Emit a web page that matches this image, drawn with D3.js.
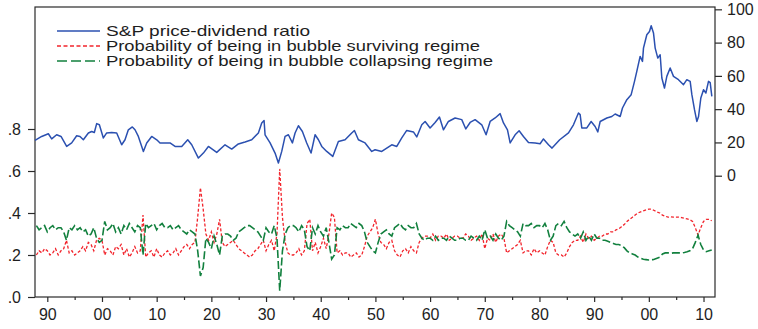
<!DOCTYPE html>
<html>
<head>
<meta charset="utf-8">
<script src="https://cdn.jsdelivr.net/npm/d3@7/dist/d3.min.js"></script>
<style>
  html, body { margin: 0; padding: 0; background: #ffffff; }
  svg { display: block; }
  text { font-family: Arial, "Liberation Sans", sans-serif; fill: #1e1e1e; }
</style>
</head>
<body>
<svg id="chart" width="758" height="329"></svg>
<script>
// S&P price-dividend ratio (right axis): sample dates and values
const blueYears = [
  1887.75, 1888.97, 1890.19, 1890.80, 1891.71, 1892.51, 1893.54, 1894.46, 1895.37, 1895.98,
  1896.59, 1897.51, 1898.12, 1898.60, 1899.03, 1899.52, 1900.25, 1900.86, 1901.77, 1902.69,
  1903.60, 1904.21, 1904.82, 1905.55, 1906.04, 1906.65, 1907.57, 1908.18, 1909.09, 1910.01,
  1910.61, 1911.53, 1912.44, 1913.36, 1914.58, 1915.68, 1916.41, 1917.63, 1918.54, 1919.46,
  1920.98, 1922.50, 1923.72, 1924.94, 1926.16, 1927.38, 1928.60, 1929.21, 1929.64, 1929.82,
  1930.74, 1931.65, 1932.26, 1932.87, 1933.48, 1934.09, 1934.82, 1935.31, 1935.92, 1936.65,
  1937.44, 1938.23, 1938.97, 1939.58, 1940.19, 1941.10, 1942.20, 1943.23, 1944.45, 1945.67,
  1946.16, 1946.89, 1948.11, 1949.33, 1949.94, 1951.16, 1952.99, 1953.91, 1954.82, 1955.73,
  1956.95, 1957.56, 1958.48, 1959.09, 1960.00, 1960.92, 1961.71, 1962.44, 1963.35, 1964.57,
  1965.79, 1966.53, 1967.32, 1968.23, 1969.45, 1970.24, 1970.98, 1971.89, 1972.81, 1973.42,
  1974.15, 1974.64, 1975.55, 1976.28, 1977.07, 1977.99, 1979.21, 1980.12, 1980.73, 1981.65,
  1982.30, 1983.70, 1985.31, 1986.22, 1987.13, 1987.44, 1987.74, 1988.66, 1989.45, 1990.18,
  1990.67, 1991.10, 1992.32, 1993.23, 1993.84, 1994.76, 1995.18, 1995.98, 1996.77, 1997.38,
  1997.80, 1998.41, 1998.84, 1999.02, 1999.63, 2000.12, 2000.43, 2000.85, 2001.16, 2001.64,
  2002.07, 2002.38, 2002.86, 2003.29, 2003.90, 2004.51, 2005.42, 2006.34, 2006.95, 2007.56,
  2007.87, 2008.35, 2008.78, 2009.09, 2009.51, 2010.00, 2010.43, 2010.91, 2011.22, 2011.52
];
const blueValues = [
  21.2, 23.6, 25.2, 22.1, 24.6, 23.6, 17.6, 19.7, 24.0, 23.6,
  21.6, 25.7, 26.6, 26.0, 31.3, 30.6, 22.7, 25.7, 26.0, 25.7,
  18.6, 21.6, 27.6, 29.3, 27.6, 23.6, 14.6, 19.7, 23.6, 21.6,
  19.7, 19.7, 19.7, 17.6, 17.6, 21.6, 18.6, 10.6, 13.6, 17.6,
  14.0, 18.6, 16.0, 19.1, 20.3, 21.6, 25.7, 31.7, 33.2, 24.6,
  19.7, 13.6, 7.6, 14.6, 23.6, 24.6, 19.7, 25.7, 30.0, 26.6,
  19.7, 13.6, 24.6, 21.6, 17.6, 14.6, 11.6, 20.6, 21.6, 25.7,
  27.2, 21.6, 19.7, 14.6, 15.6, 14.6, 18.6, 17.6, 22.7, 27.2,
  26.3, 23.3, 30.6, 32.6, 28.7, 32.0, 35.3, 27.6, 32.6, 34.7,
  33.7, 28.1, 32.0, 33.7, 30.6, 24.6, 32.6, 34.7, 37.3, 31.7,
  27.6, 19.7, 24.6, 27.0, 23.6, 20.0, 19.7, 19.2, 22.1, 18.6,
  16.6, 21.6, 25.7, 30.6, 37.7, 36.7, 28.7, 28.7, 32.6, 29.6,
  26.3, 32.6, 34.7, 35.6, 37.1, 35.6, 40.7, 45.7, 48.7, 56.7,
  62.7, 71.7, 68.7, 76.7, 84.7, 86.7, 90.1, 85.8, 76.7, 70.7,
  72.7, 58.7, 52.7, 59.7, 64.7, 59.7, 57.7, 54.7, 57.7, 56.7,
  48.7, 39.7, 32.6, 35.6, 46.7, 51.7, 49.7, 56.7, 55.9, 47.7
];

// Regime probabilities (left axis), half-year observations from 1888
const probStart = 1888;
const probStep = 0.5;
const surviving = [
  .20, .22, .21, .23, .22, .20, .21, .23, .20, .22,
  .23, .27, .21, .22, .20, .21, .22, .24, .22, .26,
  .25, .22, .27, .28, .27, .20, .23, .22, .20, .24,
  .23, .25, .20, .23, .19, .21, .24, .21, .22, .39,
  .19, .21, .22, .19, .23, .20, .19, .21, .22, .20,
  .21, .23, .20, .22, .24, .25, .23, .25, .26, .38,
  .52, .42, .30, .27, .31, .26, .30, .37, .26, .24,
  .25, .26, .27, .25, .23, .22, .21, .20, .19, .20,
  .22, .23, .25, .27, .22, .25, .27, .22, .30, .61,
  .38, .26, .21, .20, .20, .21, .23, .20, .22, .35,
  .37, .22, .26, .21, .24, .28, .23, .30, .40, .38,
  .21, .22, .20, .21, .21, .19, .20, .21, .19, .20,
  .24, .29, .31, .33, .37, .30, .26, .25, .23, .26,
  .27, .22, .20, .19, .22, .23, .21, .24, .22, .21,
  .26, .28, .29, .29, .28, .30, .27, .29, .29, .28,
  .30, .27, .28, .29, .29, .28, .28, .30, .29, .27,
  .28, .29, .27, .30, .23, .28, .27, .30, .26, .29,
  .30, .28, .21, .22, .23, .24, .25, .27, .21, .22,
  .22, .20, .23, .21, .22, .21, .20, .24, .27, .26,
  .21, .20, .20, .19, .21, .24, .26, .27, .27, .29,
  .26, .30, .28, .29, .27, .28, .29, .29, .30, .30,
  .31, .31, .32, .325, .335, .345, .36, .37, .38, .39,
  .40, .405, .41, .415, .418, .418, .412, .405, .40, .39,
  .385, .38, .382, .38, .38, .38, .378, .375, .372, .368,
  .36, .33, .295, .33, .36, .37, .37, .363
];
const collapsing = [
  .34, .32, .33, .34, .31, .33, .34, .32, .33, .33,
  .31, .27, .33, .32, .34, .32, .33, .31, .32, .29,
  .30, .33, .28, .26, .27, .36, .32, .33, .35, .31,
  .33, .30, .34, .32, .35, .33, .31, .34, .33, .20,
  .35, .33, .34, .35, .32, .34, .35, .33, .33, .34,
  .32, .33, .34, .32, .31, .30, .32, .31, .30, .22,
  .10, .14, .28, .26, .23, .29, .25, .20, .29, .30,
  .30, .29, .27, .28, .31, .32, .33, .34, .34, .33,
  .32, .31, .29, .27, .33, .31, .30, .34, .28, .03,
  .22, .30, .33, .34, .34, .33, .31, .34, .32, .24,
  .22, .33, .30, .34, .31, .29, .33, .26, .18, .20,
  .33, .32, .34, .33, .33, .35, .34, .33, .35, .34,
  .31, .26, .24, .22, .21, .26, .30, .31, .32, .30,
  .29, .33, .34, .35, .33, .32, .34, .33, .33, .35,
  .30, .28, .27, .28, .28, .27, .29, .27, .28, .28,
  .27, .29, .28, .27, .27, .28, .28, .27, .27, .29,
  .28, .27, .29, .27, .32, .28, .29, .27, .30, .28,
  .27, .29, .36, .34, .33, .32, .31, .29, .35, .34,
  .34, .35, .33, .34, .34, .33, .35, .32, .27, .29,
  .34, .35, .34, .36, .33, .31, .30, .29, .30, .28,
  .31, .27, .29, .27, .30, .28, .28, .27, .27, .265,
  .26, .255, .25, .25, .245, .235, .22, .21, .205, .20,
  .19, .185, .18, .178, .176, .176, .18, .185, .19, .205,
  .21, .21, .208, .21, .21, .21, .21, .212, .215, .22,
  .23, .26, .295, .25, .224, .216, .22, .224
];

const leftTicks = [0, 0.2, 0.4, 0.6, 0.8];
const leftTickLabels = [".0", ".2", ".4", ".6", ".8"];
const rightTicks = [0, 20, 40, 60, 80, 100];
const yearTicks = [1890, 1900, 1910, 1920, 1930, 1940, 1950, 1960, 1970, 1980, 1990, 2000, 2010];
const yearTickLabels = ["90", "00", "10", "20", "30", "40", "50", "60", "70", "80", "90", "00", "10"];
const yearMinorTicks = [1895, 1905, 1915, 1925, 1935, 1945, 1955, 1965, 1975, 1985, 1995, 2005];
const legendLabels = [
  "S&P price-dividend ratio",
  "Probability of being in bubble surviving regime",
  "Probability of being in bubble collapsing regime"
];
// rendered widths of the legend entries, px
const legendWidths = [204, 374, 387];

const colors = { blue: "#2b50b0", red: "#f2242c", green: "#12803e" };

const frame = { left: 35, right: 715, top: 7, bottom: 297 };
const svg = d3.select("#chart");

const x = d3.scaleLinear().domain([1887.75, 2012.1]).range([frame.left, frame.right]);
const yLeft = d3.scaleLinear().domain([0, 1.381]).range([frame.bottom, frame.top]);
const yRight = d3.scaleLinear().domain([-72.9, 101.4]).range([frame.bottom, frame.top]);

// plot frame
svg.append("rect")
  .attr("x", frame.left).attr("y", frame.top)
  .attr("width", frame.right - frame.left).attr("height", frame.bottom - frame.top)
  .attr("fill", "none").attr("stroke", "#2a2a2a").attr("stroke-width", 1.2);

// left axis
const gLeft = svg.append("g").attr("transform", `translate(${frame.left},0)`)
  .call(d3.axisLeft(yLeft).tickValues(leftTicks)
    .tickFormat((d, i) => leftTickLabels[i]).tickSize(7).tickPadding(7));

// right axis
const gRight = svg.append("g").attr("transform", `translate(${frame.right},0)`)
  .call(d3.axisRight(yRight).tickValues(rightTicks).tickSize(7).tickPadding(5));

// bottom axis, major and minor ticks
const gBottom = svg.append("g").attr("transform", `translate(0,${frame.bottom})`)
  .call(d3.axisBottom(x).tickValues(yearTicks)
    .tickFormat((d, i) => yearTickLabels[i]).tickSize(5).tickPadding(7));
const gMinor = svg.append("g").attr("transform", `translate(0,${frame.bottom})`)
  .call(d3.axisBottom(x).tickValues(yearMinorTicks).tickFormat("").tickSize(3));

[gLeft, gRight, gBottom, gMinor].forEach(g => {
  g.select(".domain").remove();
  g.selectAll(".tick line").attr("stroke", "#2a2a2a").attr("stroke-width", 1.2);
  g.selectAll(".tick text").attr("font-size", 16).attr("fill", "#1e1e1e")
    .attr("font-family", "Arial, 'Liberation Sans', sans-serif");
});

// series
const probLine = d3.line()
  .x((d, i) => x(probStart + i * probStep))
  .y(d => yLeft(d));

svg.append("path").datum(surviving)
  .attr("d", probLine).attr("fill", "none")
  .attr("stroke", colors.red).attr("stroke-width", 1.3)
  .attr("stroke-dasharray", "3,2");

svg.append("path").datum(collapsing)
  .attr("d", probLine).attr("fill", "none")
  .attr("stroke", colors.green).attr("stroke-width", 1.6)
  .attr("stroke-dasharray", "8,3");

const blueLine = d3.line()
  .x(d => x(d[0]))
  .y(d => yRight(d[1]));

svg.append("path").datum(d3.zip(blueYears, blueValues))
  .attr("d", blueLine).attr("fill", "none")
  .attr("stroke", colors.blue).attr("stroke-width", 1.5)
  .attr("stroke-linejoin", "round");

// legend
const legendStyles = [
  { color: colors.blue, dash: null, width: 1.5 },
  { color: colors.red, dash: "4,2.5", width: 1.3 },
  { color: colors.green, dash: "10,4", width: 1.6 }
];
const legend = svg.append("g").attr("transform", "translate(57,31)");
legendLabels.forEach((label, i) => {
  const row = legend.append("g").attr("transform", `translate(0,${i * 15})`);
  row.append("line").attr("x1", 0).attr("x2", 43).attr("y1", 0).attr("y2", 0)
    .attr("stroke", legendStyles[i].color).attr("stroke-width", legendStyles[i].width)
    .attr("stroke-dasharray", legendStyles[i].dash);
  row.append("text").attr("x", 49).attr("y", 5)
    .attr("font-size", 14.5)
    .attr("textLength", legendWidths[i])
    .attr("lengthAdjust", "spacingAndGlyphs")
    .text(label);
});
</script>
</body>
</html>
